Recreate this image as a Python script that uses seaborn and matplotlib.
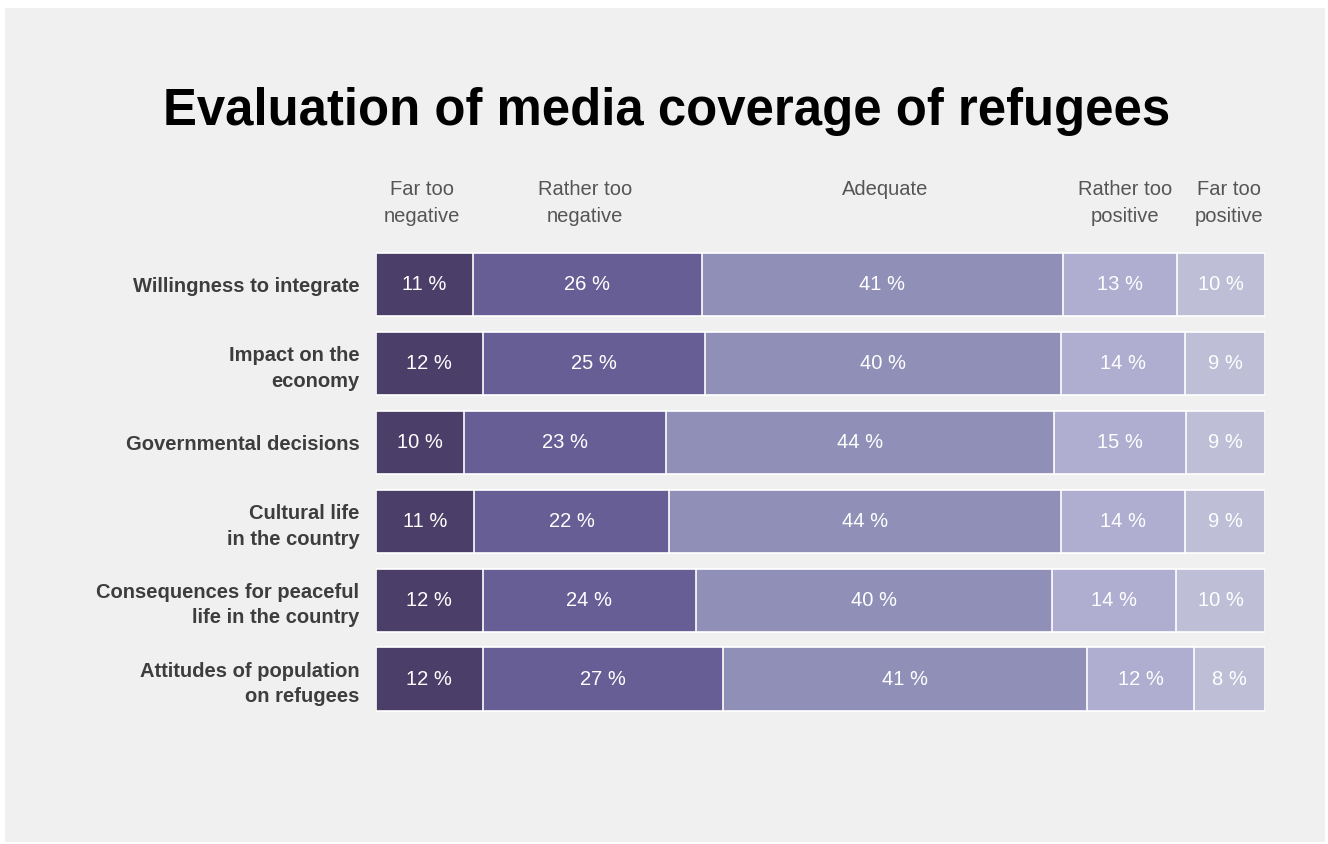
import matplotlib
matplotlib.use("Agg")
import matplotlib.pyplot as plt
from matplotlib.patches import Rectangle
import numpy as np
import pandas as pd
import seaborn as sns

# Survey data: share of respondents per answer, by topic
topics = [
    "Willingness to integrate",
    "Impact on the\neconomy",
    "Governmental decisions",
    "Cultural life\nin the country",
    "Consequences for peaceful\nlife in the country",
    "Attitudes of population\non refugees",
]
levels = ["Far too\nnegative", "Rather too\nnegative", "Adequate",
          "Rather too\npositive", "Far too\npositive"]
far_neg = [11, 12, 10, 11, 12, 12]
rather_neg = [26, 25, 23, 22, 24, 27]
adequate = [41, 40, 44, 44, 40, 41]
rather_pos = [13, 14, 15, 14, 14, 12]
far_pos = [10, 9, 9, 9, 10, 8]

colors = ["#4b3f69", "#685e96", "#908fb7", "#afadd0", "#bebfd6"]
bg = "#f0f0f0"

sns.set_theme(style="white")
plt.rcParams["font.family"] = ["Liberation Sans", "DejaVu Sans"]

values = np.array([far_neg, rather_neg, adequate, rather_pos, far_pos], dtype=float).T
shares = values / values.sum(axis=1, keepdims=True) * 100  # each bar fills 100 %
cum = np.cumsum(shares, axis=1)

rows = []
for i, t in enumerate(topics):
    for j, lvl in enumerate(levels):
        rows.append({"topic": t, "level": lvl, "value": values[i, j],
                     "start": cum[i, j] - shares[i, j], "end": cum[i, j]})
df = pd.DataFrame(rows)

fig = plt.figure(figsize=(13.28, 8.44), dpi=100, facecolor="white")
fig.patches.append(Rectangle((5 / 1328, 2 / 844), 1320 / 1328, 834 / 844,
                             transform=fig.transFigure, facecolor=bg,
                             edgecolor="none", zorder=-1))
ax_h = 473.5
ax = fig.add_axes([376 / 1328, 1 - 718.5 / 844, 889 / 1328, ax_h / 844])
ax.set_facecolor(bg)

# Stack by overlaying cumulative bars, widest first
for j in range(len(levels) - 1, -1, -1):
    sub = df[df["level"] == levels[j]]
    sns.barplot(data=sub, y="topic", x="end", order=topics, orient="h",
                color=colors[j], saturation=1, width=0.8,
                edgecolor="white", linewidth=1.2, ax=ax)

for _, r in df.iterrows():
    yi = topics.index(r["topic"])
    ax.text((r["start"] + r["end"]) / 2, yi, f"{int(r['value'])} %",
            ha="center", va="center", color="white", fontsize=14.5)

ax.set_xlim(0, 100)
ax.set_ylim(len(topics) - 0.5, -0.5)
ax.set_xlabel("")
ax.set_ylabel("")
ax.set_xticks([])
ax.tick_params(axis="y", length=0, pad=12)
ax.set_yticks(range(len(topics)))
ax.set_yticklabels(topics, fontsize=14.5, fontweight="bold", color="#3d3d3d",
                   ha="right", linespacing=1.42)
for s in ax.spines.values():
    s.set_visible(False)

# Column headers above the bars
header_x = [0.052, 0.235, 0.573, 0.843, 0.960]
for x, lvl in zip(header_x, levels):
    ax.text(x, 1.0 + (245 - 180) / ax_h, lvl, transform=ax.transAxes,
            ha="center", va="top", fontsize=14.5, color="#555555",
            linespacing=1.55)

fig.text(667 / 1328, 1 - 112 / 844, "Evaluation of media coverage of refugees",
         ha="center", va="center", fontsize=36.6, fontweight="bold", color="black")

fig.savefig("out.png", dpi=100, facecolor=fig.get_facecolor())
